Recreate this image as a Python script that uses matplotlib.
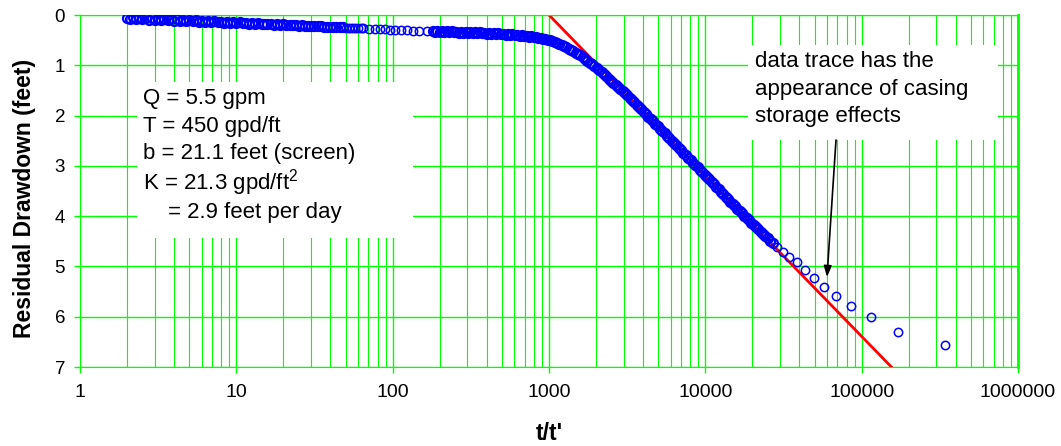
import matplotlib
matplotlib.use("Agg")
import matplotlib.pyplot as plt
from matplotlib.patches import Rectangle
from matplotlib.ticker import LogLocator, NullFormatter

plt.rcParams['font.family'] = 'Liberation Sans'
plt.rcParams['mathtext.fontset'] = 'custom'
plt.rcParams['mathtext.rm'] = 'Liberation Sans'

# first recovery log (t/t' vs residual drawdown, feet)
ratio_early = [
    2.00, 2.09, 2.19, 2.29, 2.40, 2.51, 2.63, 2.75, 2.88, 3.02,
    3.16, 3.31, 3.47, 3.63, 3.80, 3.98, 4.17, 4.37, 4.57, 4.79,
    5.01, 5.25, 5.50, 5.75, 6.03, 6.31, 6.61, 6.92, 7.24, 7.59,
    7.94, 8.32, 8.71, 9.12, 9.55, 10.0, 10.5, 11.0, 11.5, 12.0,
    12.6, 13.2, 13.8, 14.5, 15.1, 15.8, 16.6, 17.4, 18.2, 19.1,
    20.0, 20.9, 21.9, 22.9, 24.0, 25.1, 26.3, 27.5, 28.8, 30.2,
    31.6, 33.1, 34.7, 36.3, 38.0, 39.8, 41.7, 43.7, 45.7, 47.9,
]
drawdown_early = [
    0.05, 0.07, 0.04, 0.07, 0.05, 0.08, 0.06, 0.09, 0.06, 0.09,
    0.07, 0.10, 0.07, 0.10, 0.08, 0.11, 0.08, 0.11, 0.09, 0.12,
    0.10, 0.12, 0.10, 0.13, 0.11, 0.13, 0.11, 0.14, 0.12, 0.14,
    0.13, 0.15, 0.13, 0.15, 0.14, 0.16, 0.14, 0.16, 0.15, 0.17,
    0.16, 0.17, 0.16, 0.18, 0.17, 0.18, 0.17, 0.19, 0.18, 0.19,
    0.18, 0.20, 0.19, 0.20, 0.20, 0.21, 0.20, 0.21, 0.21, 0.22,
    0.21, 0.22, 0.22, 0.23, 0.23, 0.23, 0.24, 0.24, 0.24, 0.24,
]
# sparser readings at the end of the first log
ratio_early_tail = [50, 52.5, 55, 57.5, 60, 62.5, 65, 71, 77, 83,
                    89, 96, 104, 113, 123, 134, 148, 165]
drawdown_early_tail = [0.25, 0.25, 0.25, 0.26, 0.26, 0.26, 0.26, 0.27, 0.27, 0.28,
                       0.28, 0.29, 0.29, 0.30, 0.30, 0.31, 0.31, 0.32]

# second recovery log
ratio_late = [
    180, 186, 193, 200, 207, 214, 222, 230, 238, 246,
    255, 264, 273, 283, 293, 303, 314, 325, 336, 348,
    360, 373, 386, 400, 414, 428, 443, 459, 475, 492,
    509, 527, 545, 564, 584, 605, 626, 648, 671, 694,
    719, 744, 770, 797, 825, 854, 884, 915, 947, 980,
    1014, 1050, 1087, 1125, 1164, 1205, 1248, 1291, 1337, 1384,
    1432, 1483, 1535, 1589, 1644, 1702, 1762, 1824, 1888, 1954,
    2023, 2094, 2167, 2243, 2322, 2404, 2488, 2575, 2666, 2759,
    2856, 2956, 3060, 3168, 3279, 3394, 3513, 3636, 3764, 3896,
    4033, 4175, 4321, 4473, 4630, 4792, 4960, 5134, 5315, 5501,
    5694, 5894, 6101, 6315, 6537, 6766, 7004, 7250, 7504, 7767,
    8040, 8322, 8614, 8917, 9230, 9554, 9889, 10236, 10596, 10968,
    11353, 11751, 12164, 12591, 13033, 13490, 13964, 14454, 14961, 15487,
    16030, 16593, 17176, 17778, 18402, 19048, 19717, 20409, 21126, 21867,
    22635, 23429, 24252, 25103, 25984, 26896,
]
drawdown_late = [
    0.32, 0.33, 0.31, 0.33, 0.32, 0.34, 0.32, 0.34, 0.32, 0.34,
    0.33, 0.35, 0.33, 0.35, 0.33, 0.35, 0.34, 0.36, 0.34, 0.36,
    0.34, 0.36, 0.35, 0.37, 0.35, 0.37, 0.36, 0.38, 0.36, 0.38,
    0.37, 0.39, 0.37, 0.39, 0.38, 0.40, 0.39, 0.41, 0.40, 0.42,
    0.41, 0.43, 0.42, 0.44, 0.43, 0.46, 0.45, 0.47, 0.47, 0.49,
    0.50, 0.52, 0.54, 0.56, 0.58, 0.60, 0.61, 0.64, 0.67, 0.69,
    0.72, 0.75, 0.77, 0.80, 0.84, 0.87, 0.91, 0.95, 0.98, 1.02,
    1.06, 1.10, 1.14, 1.18, 1.22, 1.27, 1.31, 1.35, 1.39, 1.43,
    1.48, 1.52, 1.56, 1.60, 1.65, 1.69, 1.74, 1.78, 1.83, 1.87,
    1.92, 1.97, 2.02, 2.06, 2.11, 2.16, 2.21, 2.26, 2.30, 2.35,
    2.40, 2.45, 2.50, 2.54, 2.59, 2.64, 2.69, 2.74, 2.79, 2.84,
    2.89, 2.94, 2.98, 3.03, 3.08, 3.13, 3.18, 3.23, 3.27, 3.32,
    3.37, 3.42, 3.47, 3.51, 3.56, 3.61, 3.66, 3.71, 3.75, 3.80,
    3.85, 3.89, 3.94, 3.99, 4.04, 4.08, 4.13, 4.17, 4.22, 4.26,
    4.31, 4.35, 4.40, 4.44, 4.49, 4.53,
]
# late-time readings bending away from the line
ratio_late_tail = [28700, 31400, 34300, 38400, 43200, 49300, 57100, 68800, 85900, 114000,
                   171000, 343000]
drawdown_late_tail = [4.62, 4.71, 4.82, 4.92, 5.07, 5.23, 5.40, 5.58, 5.78, 6.00,
                      6.31, 6.57]

# straight-line fit (Cooper-Jacob)
fit_ratio = [1000, 155000]
fit_drawdown = [0, 7]

x_ticks = [1, 10, 100, 1000, 10000, 100000, 1000000]
x_tick_labels = ['1', '10', '100', '1000', '10000', '100000', '1000000']
y_ticks = [0, 1, 2, 3, 4, 5, 6, 7]

info_lines = ['Q = 5.5 gpm', 'T = 450 gpd/ft', 'b = 21.1 feet (screen)',
              r'K = 21.3 gpd/ft$^\mathregular{2}$', '= 2.9 feet per day']
note_lines = ['data trace has the', 'appearance of casing', 'storage effects']

W, H = 1061, 446
GREEN = '#00ff00'
BLUE = '#0000ff'


def fx(px):
    return px / W


def fy(py):
    return 1 - py / H


fig = plt.figure(figsize=(W / 100, H / 100), dpi=100)
ax = fig.add_axes([fx(80), fy(367), (1018 - 80) / W, (367 - 15) / H])

ax.set_xscale('log')
ax.set_xlim(1, 1e6)
ax.set_ylim(7, 0)
ax.set_xticks(x_ticks)
ax.set_xticklabels(x_tick_labels)
ax.xaxis.set_minor_locator(LogLocator(base=10, subs=range(2, 10), numticks=20))
ax.xaxis.set_minor_formatter(NullFormatter())
ax.set_yticks(y_ticks)

ax.grid(True, which='major', color=GREEN, lw=1.0)
ax.grid(True, which='minor', axis='x', color=GREEN, lw=0.8)
ax.tick_params(which='major', colors=GREEN, length=4.3, width=1,
               labelcolor='black', labelsize=13.5)
ax.tick_params(axis='x', pad=8, labelsize=14)
ax.tick_params(axis='y', pad=6.5)
ax.tick_params(which='minor', length=0)
for s in ax.spines.values():
    s.set_color(GREEN)
ax.spines['right'].set_linewidth(2)

ax.set_xlabel("t/t'", fontsize=16.5, fontweight='bold')
ax.xaxis.set_label_coords(0.5, (367 - 422) / 352)
ax.set_ylabel('Residual Drawdown (feet)', fontsize=16.5, fontweight='bold')
ax.yaxis.set_label_coords((36 - 80) / 938, 0.48)

ax.plot(fit_ratio, fit_drawdown, color='#ff0000', lw=2.0, zorder=2.5)
ax.plot(ratio_early, drawdown_early, 'o', mfc='none', mec=BLUE, ms=6.5, mew=1.6, zorder=3)
ax.plot(ratio_early_tail, drawdown_early_tail, 'o', mfc='none', mec=BLUE, ms=6, mew=1.1, zorder=3)
ax.plot(ratio_late, drawdown_late, 'o', mfc='none', mec=BLUE, ms=6.5, mew=1.6, zorder=3)
ax.plot(ratio_late_tail, drawdown_late_tail, 'o', mfc='none', mec=BLUE, ms=6, mew=1.1, zorder=3)

# white backgrounds behind the text blocks
ax.add_patch(Rectangle((fx(137), fy(238)), (413 - 137) / W, (238 - 82) / H,
                       transform=fig.transFigure, facecolor='white', edgecolor='none', zorder=2))
ax.add_patch(Rectangle((fx(748), fy(140)), (998 - 748) / W, (140 - 45) / H,
                       transform=fig.transFigure, facecolor='white', edgecolor='none', zorder=2))

info_pos = [(143, 104), (143, 132), (143, 159), (143, 190), (168, 218)]
for txt, (px, py) in zip(info_lines, info_pos):
    fig.text(fx(px), fy(py), txt, fontsize=16, va='baseline', ha='left')

for i, txt in enumerate(note_lines):
    fig.text(fx(755), fy(67 + 27.5 * i), txt, fontsize=16, va='baseline', ha='left')

ax.annotate('', xy=(827, H - 277), xycoords='figure pixels',
            xytext=(836, H - 140), textcoords='figure pixels',
            arrowprops=dict(arrowstyle='-|>,head_length=0.5,head_width=0.18',
                            color='black', lw=1.2, mutation_scale=13,
                            shrinkA=0, shrinkB=0))

fig.savefig('out.png', dpi=100)
